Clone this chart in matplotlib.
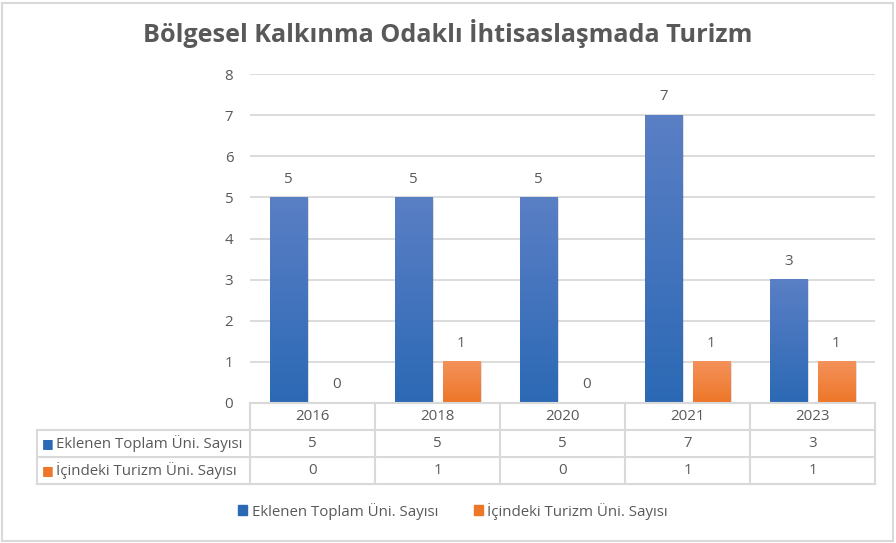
import matplotlib.pyplot as plt
import matplotlib.patches as mpatches
import numpy as np

years = ["2016", "2018", "2020", "2021", "2023"]
total_uni = [5, 5, 5, 7, 3]
tourism_uni = [0, 1, 0, 1, 1]
series_names = ["Eklenen Toplam Üni. Sayısı", "İçindeki Turizm Üni. Sayısı"]

BLUE_TOP, BLUE_BOT = "#5A7FC5", "#2C69B5"
ORANGE_TOP, ORANGE_BOT = "#F4925A", "#ED7628"
GRID = "#D9D9D9"
TXT = "#595959"
FS = 10.8

plt.rcParams["font.family"] = ["Open Sans", "DejaVu Sans"]

W, H = 896, 543
fig = plt.figure(figsize=(W / 100, H / 100), dpi=100)

def px(x0, y0, x1, y1):
    return [x0 / W, 1 - y1 / H, (x1 - x0) / W, (y1 - y0) / H]

ax = fig.add_axes(px(250, 74, 875, 403))
x = np.arange(len(years))
bw = 0.30
off = 0.19


def grad_bars(xs, vals, c_top, c_bot):
    bars = ax.bar(xs, vals, bw, color="none", zorder=3)
    cmap = plt.matplotlib.colors.LinearSegmentedColormap.from_list("g", [c_bot, c_top])
    for b in bars:
        h = b.get_height()
        if h <= 0:
            continue
        x0 = b.get_x()
        # soft shadow
        ax.add_patch(mpatches.Rectangle((x0 + 0.012, 0), b.get_width(), h - 0.02,
                                        color="#000000", alpha=0.12, lw=0, zorder=2))
        grad = np.linspace(0, 1, 100).reshape(-1, 1)
        ax.imshow(grad, extent=(x0, x0 + b.get_width(), 0, h), origin="lower",
                  cmap=cmap, aspect="auto", zorder=3)
    return bars


grad_bars(x - off, total_uni, BLUE_TOP, BLUE_BOT)
grad_bars(x + off, tourism_uni, ORANGE_TOP, ORANGE_BOT)

for xi, v in zip(x - off, total_uni):
    ax.text(xi, v + 0.26, str(v), ha="center", va="bottom", fontsize=FS, color=TXT)
for xi, v in zip(x + off, tourism_uni):
    ax.text(xi, v + 0.26, str(v), ha="center", va="bottom", fontsize=FS, color=TXT)

ax.set_xlim(-0.5, len(years) - 0.5)
ax.set_ylim(0, 8)
ax.set_yticks(range(0, 9))
ax.yaxis.grid(True, color=GRID, lw=1.3)
ax.set_axisbelow(True)
ax.set_xticks([])
for s in ax.spines.values():
    s.set_visible(False)
ax.tick_params(axis="y", length=0, labelsize=FS, labelcolor=TXT, pad=12)

# data table below the plot
tax = fig.add_axes(px(37, 403, 875, 484))
left = -0.5 - 213 / 125
tax.set_xlim(left, len(years) - 0.5)
tax.set_ylim(3, 0)
tax.axis("off")
lk = dict(color=GRID, lw=1.5, clip_on=False)
tax.plot([-0.5, len(years) - 0.5], [0, 0], **lk)
for r in (1, 2, 3):
    tax.plot([left, len(years) - 0.5], [r, r], **lk)
tax.plot([left, left], [1, 3], **lk)
for i in range(len(years) + 1):
    tax.plot([i - 0.5, i - 0.5], [0, 3], **lk)
for i, yr in enumerate(years):
    tax.text(i, 0.5, yr, ha="center", va="center", fontsize=FS, color=TXT)
    tax.text(i, 1.5, str(total_uni[i]), ha="center", va="center", fontsize=FS, color=TXT)
    tax.text(i, 2.5, str(tourism_uni[i]), ha="center", va="center", fontsize=FS, color=TXT)
for r, (name, c) in enumerate(zip(series_names, [BLUE_BOT, ORANGE_BOT])):
    tax.text(left + 0.04, r + 1.5, "■", ha="left", va="center", fontsize=9, color=c,
             family="DejaVu Sans")
    tax.text(left + 0.15, r + 1.5, name, ha="left", va="center", fontsize=FS, color=TXT)

# legend
handles = [mpatches.Patch(color=BLUE_BOT, label=series_names[0]),
           mpatches.Patch(color=ORANGE_BOT, label=series_names[1])]
fig.legend(handles=handles, loc="center", bbox_to_anchor=(453 / W, 1 - 511 / H), ncol=2,
           frameon=False, fontsize=FS, labelcolor=TXT, handlelength=0.6, handleheight=0.6,
           handletextpad=0.3, columnspacing=2.4)

fig.text(448 / W, 1 - 33 / H, "Bölgesel Kalkınma Odaklı İhtisaslaşmada Turizm",
         ha="center", va="center", fontsize=18.2, fontweight="bold", color=TXT)

fig.patches.append(mpatches.Rectangle((2 / W, 2 / H), (W - 5) / W, (H - 5) / H,
                                      transform=fig.transFigure, fill=False,
                                      edgecolor=GRID, lw=1.5))

fig.savefig("out.png", dpi=100, facecolor="white")
